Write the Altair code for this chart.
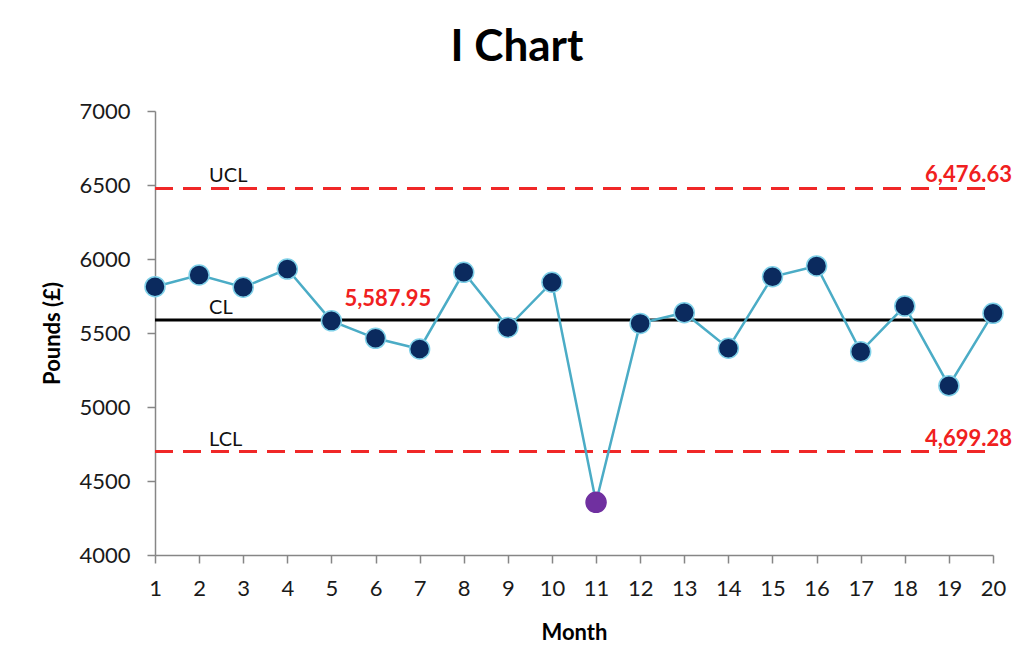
import altair as alt
import pandas as pd

months = list(range(1, 21))
pounds = [5813, 5892, 5809, 5932, 5582, 5464, 5392, 5910, 5538, 5843,
          4356, 5565, 5637, 5397, 5880, 5953, 5374, 5682, 5144, 5633]
limit_names = ["UCL", "CL", "LCL"]
limit_values = [6476.63, 5587.95, 4699.28]
limit_labels = ["6,476.63", "5,587.95", "4,699.28"]
y_ticks = [4000, 4500, 5000, 5500, 6000, 6500, 7000]

df = pd.DataFrame({"Month": months, "Pounds": pounds})
df["status"] = ["out" if (v < limit_values[2] or v > limit_values[0]) else "in" for v in pounds]

lim = pd.DataFrame({"name": limit_names, "value": limit_values, "label": limit_labels,
                    "start": months[0], "end": months[-1]})

FONT = "Lato"
x_scale = alt.Scale(domain=[months[0], months[-1]], nice=False, zero=False)
y_scale = alt.Scale(domain=[y_ticks[0], y_ticks[-1]], nice=False, zero=False)

line = alt.Chart(df).mark_line(color="#4BACC6", strokeWidth=2.5).encode(
    x=alt.X("Month:Q", scale=x_scale,
            axis=alt.Axis(values=months, title="Month", format="d", labelPadding=15,
                          labelFlush=False, labelOverlap=False, titlePadding=23)),
    y=alt.Y("Pounds:Q", scale=y_scale,
            axis=alt.Axis(values=y_ticks, title="Pounds (£)", format="d", labelPadding=17,
                          labelFlush=False, labelOverlap=False, titlePadding=14)),
)

points = alt.Chart(df).mark_circle(size=400, opacity=1, strokeWidth=1.5).encode(
    x="Month:Q",
    y="Pounds:Q",
    color=alt.Color("status:N", scale=alt.Scale(domain=["in", "out"], range=["#0B2A5E", "#7030A0"]),
                    legend=None),
    stroke=alt.Stroke("status:N", scale=alt.Scale(domain=["in", "out"], range=["#7FD0E8", "#7030A0"]),
                      legend=None),
)

lim_base = alt.Chart(lim)

red_rules = lim_base.transform_filter(alt.datum.name != "CL").mark_rule(
    color="#F02828", strokeWidth=3, strokeDash=[18, 10]
).encode(x=alt.X("start:Q", scale=x_scale), x2="end:Q", y=alt.Y("value:Q", scale=y_scale))

cl_rule = lim_base.transform_filter(alt.datum.name == "CL").mark_rule(
    color="#000000", strokeWidth=3
).encode(x=alt.X("start:Q", scale=x_scale), x2="end:Q", y=alt.Y("value:Q", scale=y_scale))

red_values = lim_base.transform_filter(alt.datum.name != "CL").mark_text(
    color="#F02020", fontSize=22, fontWeight="bold", font=FONT, align="right",
    baseline="middle", dx=19, dy=-13
).encode(x=alt.X("end:Q", scale=x_scale), y=alt.Y("value:Q", scale=y_scale), text="label:N")

cl_value = lim_base.transform_filter(alt.datum.name == "CL").mark_text(
    color="#F02020", fontSize=22, fontWeight="bold", font=FONT, align="left",
    baseline="middle", dx=13, dy=-21
).encode(x=alt.X(datum=5, type="quantitative", scale=x_scale),
         y=alt.Y("value:Q", scale=y_scale), text="label:N")

name_labels = lim_base.mark_text(
    color="#111111", fontSize=20, font=FONT, align="left", baseline="middle", dx=10, dy=-12
).encode(x=alt.X(datum=2, type="quantitative", scale=x_scale),
         y=alt.Y("value:Q", scale=y_scale), text="name:N")

chart = alt.layer(
    red_rules, cl_rule, line, points, red_values, cl_value, name_labels
).properties(
    width=838,
    height=444,
    title=alt.TitleParams("I Chart", fontSize=44, font=FONT, fontWeight="bold",
                          anchor="middle", dx=-57, offset=30, color="#000000"),
    autosize=alt.AutoSizeParams(type="none"),
    padding={"left": 147, "top": 103, "right": 23, "bottom": 100},
).configure_view(
    stroke=None
).configure_axis(
    grid=False,
    domainColor="#868686",
    tickColor="#868686",
    domainWidth=1.5,
    tickWidth=1.5,
    tickSize=8,
    labelFont=FONT,
    labelFontSize=22,
    labelColor="#1a1a1a",
    titleFont=FONT,
    titleFontSize=22,
    titleFontWeight="bold",
    titleColor="#000000",
)

chart.save("out.html", embed_options={"renderer": "svg", "actions": False})
